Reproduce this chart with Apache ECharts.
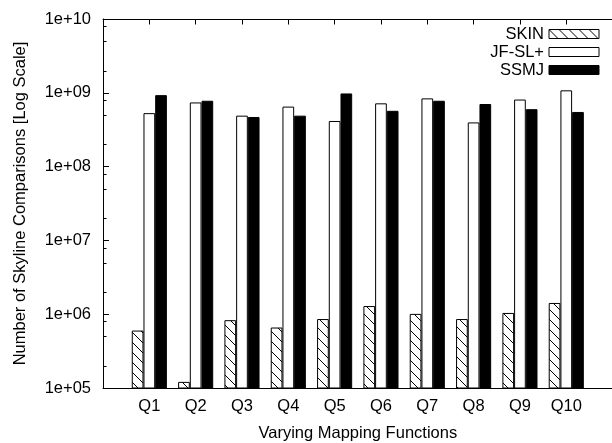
<!DOCTYPE html>
<html><head><meta charset="utf-8">
<script src="https://cdn.jsdelivr.net/npm/echarts@6/dist/echarts.min.js"></script>
<style>html,body{margin:0;padding:0;background:#fff}#c{width:612px;height:443px}</style>
</head><body><div id="c"></div>
<script>
const categories = ['Q1','Q2','Q3','Q4','Q5','Q6','Q7','Q8','Q9','Q10'];
const seriesNames = ['SKIN','JF-SL+','SSMJ'];
const skinValues = [6.0e5, 1.21e5, 8.3e5, 6.6e5, 8.6e5, 1.29e6, 1.01e6, 8.6e5, 1.04e6, 1.42e6];
const jfslValues = [5.3e8, 7.4e8, 4.9e8, 6.5e8, 4.15e8, 7.2e8, 8.4e8, 3.97e8, 8.1e8, 1.08e9];
const ssmjValues = [9.3e8, 7.8e8, 4.7e8, 4.9e8, 9.8e8, 5.7e8, 7.8e8, 7.05e8, 6.0e8, 5.5e8];
const yTickLabels = ['1e+05','1e+06','1e+07','1e+08','1e+09','1e+10'];
const yMinorTicks = [2e5,5e5,8e5,2e6,5e6,8e6,2e7,5e7,8e7,2e8,5e8,8e8,2e9,5e9,8e9];

const FONT = "'Liberation Sans', Arial, Helvetica, sans-serif";
const FS = 16.5;

function hatch() {
  const s = 10;
  const c = document.createElement('canvas');
  c.width = s; c.height = s;
  const g = c.getContext('2d');
  g.fillStyle = '#fff'; g.fillRect(0, 0, s, s);
  g.strokeStyle = '#000'; g.lineWidth = 1;
  g.beginPath();
  g.moveTo(-2, -2); g.lineTo(s + 2, s + 2);
  g.moveTo(-2, s - 2); g.lineTo(2, s + 2);
  g.moveTo(s - 2, -2); g.lineTo(s + 2, 2);
  g.stroke();
  return c;
}

const toPairs = arr => arr.map((v, i) => [i + 1, v]);

const chart = echarts.init(document.getElementById('c'), null, {renderer: 'canvas'});
const barBase = {type: 'bar', barWidth: 11.7, barGap: '0%', xAxisIndex: 0, yAxisIndex: 0};
chart.setOption({
  animation: false,
  textStyle: {fontFamily: FONT, color: '#000'},
  grid: {left: 103, top: 19, height: 369, width: 509.6, outerBoundsMode: 'none', containLabel: false},
  legend: {
    orient: 'vertical', align: 'right', right: 12.5, top: 25, padding: 0,
    icon: 'rect', itemWidth: 50, itemHeight: 9, itemGap: 0,
    data: seriesNames,
    textStyle: {fontFamily: FONT, fontSize: FS, color: '#000', lineHeight: 18},
    itemStyle: {borderColor: '#000', borderWidth: 1}
  },
  xAxis: [
    {
      type: 'value', position: 'bottom', min: 0, max: 11, interval: 1,
      axisLine: {show: true, lineStyle: {color: '#000', width: 1}},
      axisTick: {show: false},
      splitLine: {show: false},
      axisLabel: {
        margin: 10, fontFamily: FONT, fontSize: FS, color: '#000',
        formatter: v => (v >= 1 && v <= categories.length) ? categories[v - 1] : ''
      },
      name: 'Varying Mapping Functions', nameLocation: 'middle', nameGap: 37,
      nameTextStyle: {fontFamily: FONT, fontSize: FS, color: '#000'}
    },
    {
      type: 'value', position: 'top', min: 0, max: 11, interval: 1,
      axisLine: {show: true, lineStyle: {color: '#000', width: 1}},
      axisTick: {show: true, inside: true, length: 5.5, lineStyle: {color: '#000'}},
      axisLabel: {show: false},
      splitLine: {show: false}
    }
  ],
  yAxis: {
    type: 'log', logBase: 10, min: 1e5, max: 1e10,
    axisLine: {show: true, lineStyle: {color: '#000', width: 1}},
    axisTick: {show: true, inside: true, length: 6, lineStyle: {color: '#000'}},
    splitLine: {show: false},
    axisLabel: {
      margin: 12, fontFamily: FONT, fontSize: FS, color: '#000',
      formatter: v => yTickLabels[Math.round(Math.log10(v)) - 5]
    },
    name: 'Number of Skyline Comparisons [Log Scale]', nameLocation: 'middle', nameRotate: 90, nameGap: 74,
    nameTextStyle: {fontFamily: FONT, fontSize: FS, color: '#000'}
  },
  series: [
    Object.assign({}, barBase, {name: seriesNames[0], data: toPairs(skinValues),
      itemStyle: {color: {image: hatch(), repeat: 'repeat'}, borderColor: '#000', borderWidth: 1}}),
    Object.assign({}, barBase, {name: seriesNames[1], data: toPairs(jfslValues),
      itemStyle: {color: '#fff', borderColor: '#000', borderWidth: 1}}),
    Object.assign({}, barBase, {name: seriesNames[2], data: toPairs(ssmjValues),
      itemStyle: {color: '#000', borderColor: '#000', borderWidth: 1}}),
    {
      type: 'custom', name: 'minorTicks', silent: true, clip: false,
      xAxisIndex: 0, yAxisIndex: 0,
      data: yMinorTicks.map(v => [0, v]),
      renderItem: (params, api) => {
        const p = api.coord([0, api.value(1)]);
        const y = Math.round(p[1]) + 0.5;
        return {type: 'line', shape: {x1: p[0], y1: y, x2: p[0] + 3.5, y2: y},
          style: {stroke: '#000', lineWidth: 1}};
      }
    }
  ]
});
</script>
</body></html>
